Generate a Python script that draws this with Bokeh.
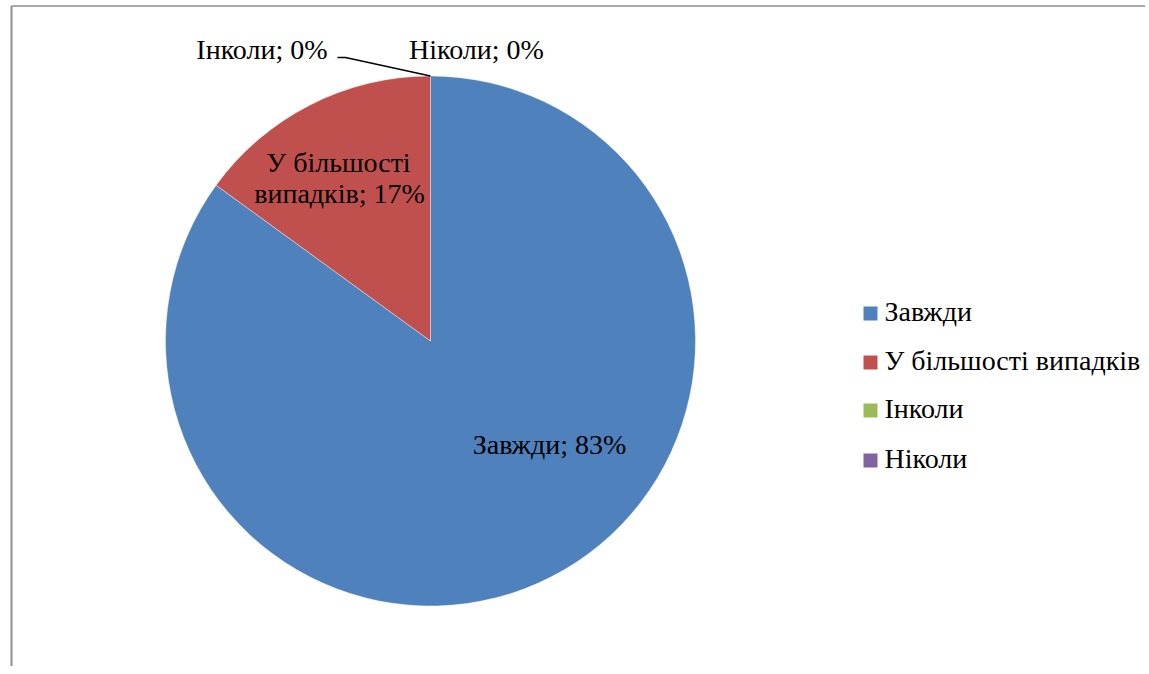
import numpy as np
from bokeh.plotting import figure
from bokeh.models import Range1d
from bokeh.core.properties import value
from bokeh.embed import file_html
from bokeh.resources import INLINE

# ---- data ----
categories = ["Завжди", "У більшості випадків", "Інколи", "Ніколи"]
shares = [85, 15, 0, 0]                  # slice sizes
pct_labels = ["83%", "17%", "0%", "0%"]  # percentages printed on the chart
colors = ["#4F81BD", "#C0504D", "#9BBB59", "#8064A2"]

# ---- layout ----
W, H = 1149, 670
OFF = 4          # figure sits 4px above/left of page origin
TDY = 10         # text baseline correction
FONT = "Liberation Serif"
FS = "28px"

def X(sx):
    return sx + OFF

def Y(sy):
    return H - (sy + OFF)

def TY(sy):
    return Y(sy - TDY)

p = figure(width=W, height=H, output_backend="svg", toolbar_location=None,
           x_range=Range1d(0, W), y_range=Range1d(0, H),
           min_border=0, outline_line_color=None, margin=(-4, 0, 0, -4))
p.axis.visible = False
p.xgrid.visible = False
p.ygrid.visible = False
p.background_fill_color = "white"
p.border_fill_color = "white"

# chart area border (top and left edges visible)
p.line(x=[X(11), X(W + 5)], y=[Y(5.5), Y(5.5)], line_color="#8e8e8e", line_width=1.6)
p.line(x=[X(11), X(11)], y=[Y(5.5), Y(H + 5)], line_color="#8e8e8e", line_width=2)

# pie
cx, cy, r = 430, 340.5, 265
fr = np.array(shares, dtype=float) / sum(shares)
cum = np.concatenate([[0], np.cumsum(fr)])
start = np.pi / 2 - 2 * np.pi * cum[:-1]
end = np.pi / 2 - 2 * np.pi * cum[1:]
for i in range(len(categories)):
    if fr[i] > 0:
        p.wedge(x=X(cx), y=Y(cy), radius=r, start_angle=start[i], end_angle=end[i],
                direction="clock", fill_color=colors[i], line_color="white",
                line_width=0.4)

# data labels
p.text(x=[X(549)], y=[TY(454.3)], text=[f"{categories[0]}; {pct_labels[0]}"],
       text_font=value(FONT), text_font_size=FS, text_color="black",
       text_align="center", text_baseline="alphabetic")
p.text(x=[X(338), X(339)], y=[TY(172.3), TY(202.7)],
       text=["У більшості", f"випадків; {pct_labels[1]}"],
       text_font=value(FONT), text_font_size=FS, text_color="black",
       text_align="center", text_baseline="alphabetic")
p.text(x=[X(327)], y=[TY(59.3)], text=[f"{categories[2]}; {pct_labels[2]}"],
       text_font=value(FONT), text_font_size=FS, text_color="black",
       text_align="right", text_baseline="alphabetic")
p.text(x=[X(408.5)], y=[TY(59.3)], text=[f"{categories[3]}; {pct_labels[3]}"],
       text_font=value(FONT), text_font_size=FS, text_color="black",
       text_align="left", text_baseline="alphabetic")
# leader line for "Інколи"
p.line(x=[X(337), X(345), X(cx)], y=[Y(57), Y(57), Y(cy - r)], line_color="black",
       line_width=1.3)

# legend
leg_y = [313, 362, 410, 460]
p.rect(x=[X(870)] * 4, y=[Y(v) for v in leg_y], width=14, height=14,
       fill_color=colors, line_color=None)
p.text(x=[X(884)] * 4, y=[TY(v + 7.7) for v in leg_y], text=categories,
       text_font=value(FONT), text_font_size=FS, text_color="black",
       text_align="left", text_baseline="alphabetic")

open("out.html", "w").write(file_html(p, INLINE))
